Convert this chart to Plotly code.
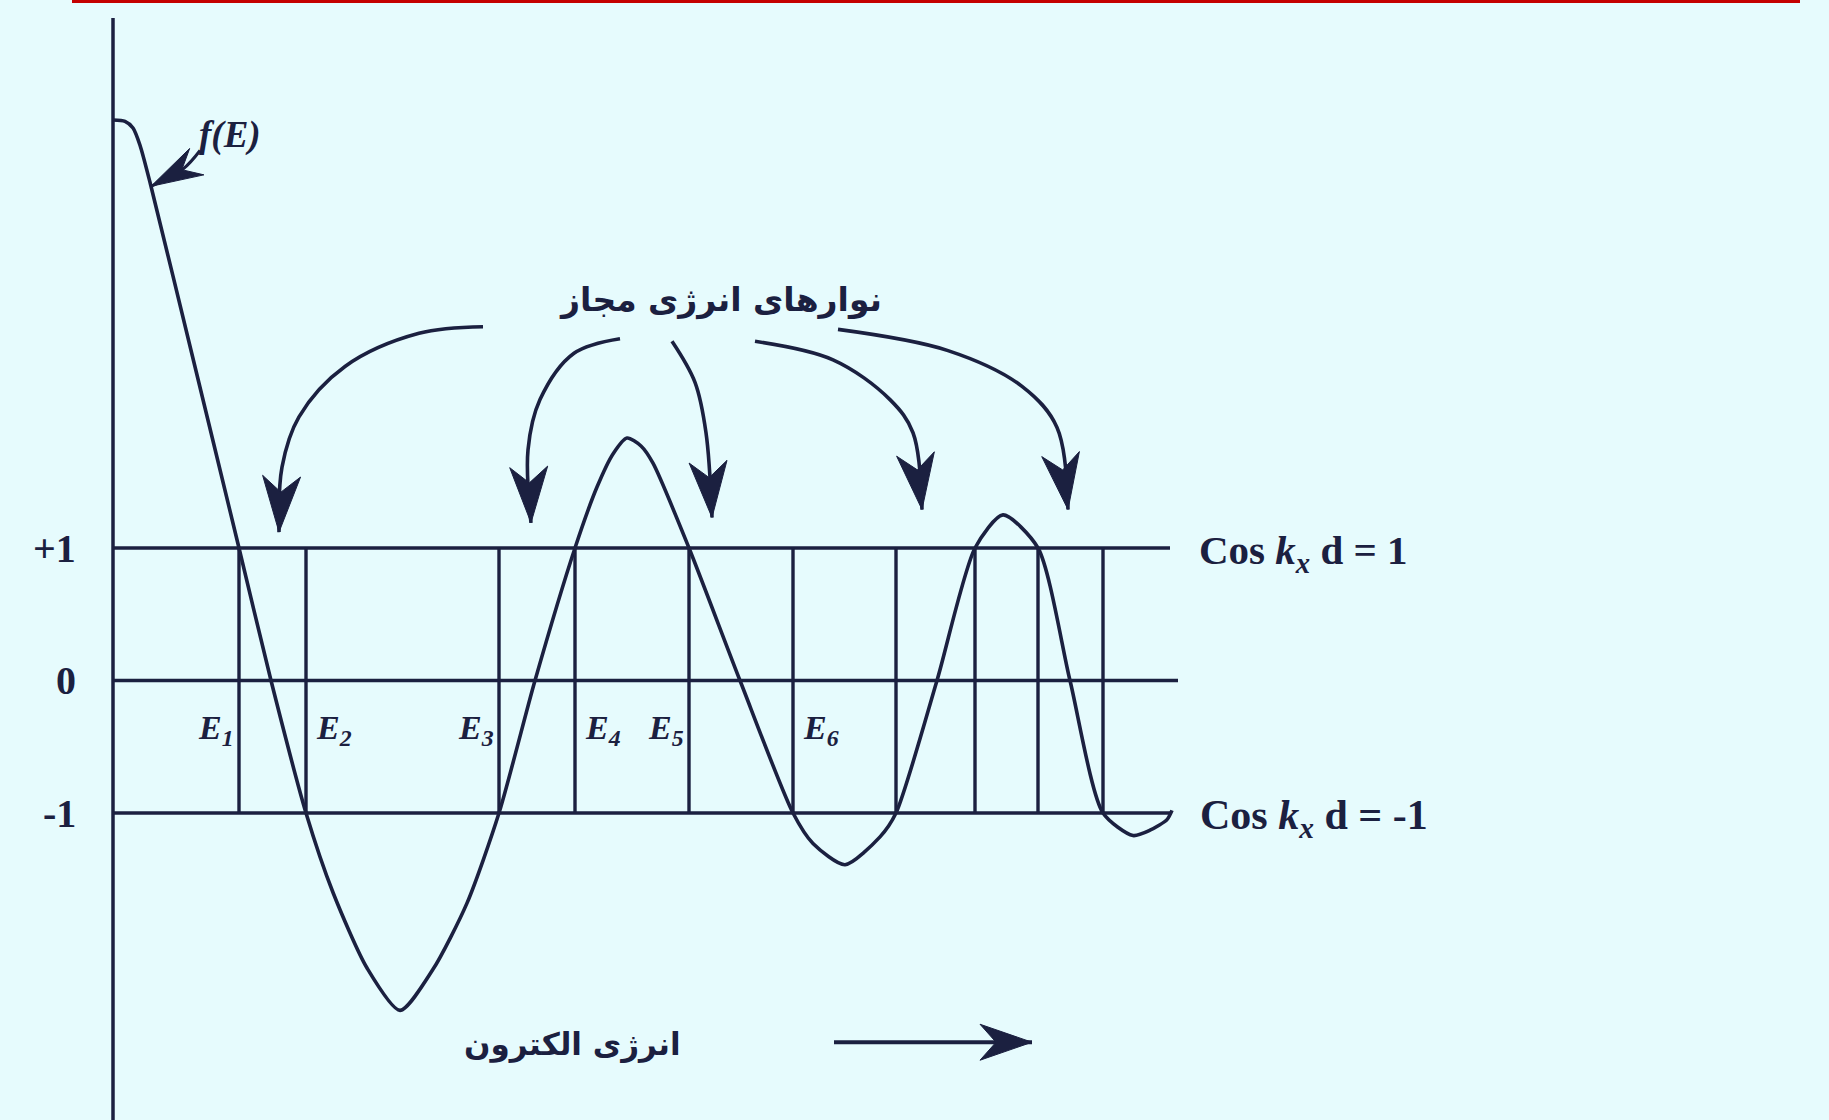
import math
import plotly.graph_objects as go

W, H = 1829, 1120
INK = "#1b2040"
PAPER = "#e6fbfd"

# f(E) sampled along the energy axis (arbitrary energy units)
energy = [0.00, 0.12, 0.20, 0.27, 0.37, 0.80, 1.26, 1.58, 1.93, 2.20, 2.54, 2.87, 3.20,
          3.54, 3.86, 4.22, 4.62, 4.84, 5.00, 5.14, 5.28, 5.40, 5.76, 6.27, 6.80, 7.00,
          7.32, 7.67, 7.83, 8.24, 8.62, 8.90, 9.25, 9.57, 9.90, 10.20, 10.37, 10.54, 10.59]
f_value = [4.23, 4.22, 4.17, 4.04, 3.76, 2.43, 1.00, 0.00, -1.00, -1.60, -2.17, -2.49, -2.18,
           -1.68, -1.00, 0.00, 1.00, 1.46, 1.71, 1.83, 1.77, 1.64, 1.00, 0.00, -1.00, -1.23,
           -1.39, -1.18, -1.00, 0.00, 1.00, 1.25, 1.00, 0.00, -1.00, -1.17, -1.13, -1.05, -0.98]

# energies where f(E) meets cos(k_x d) = +1 or -1
band_edges = [1.26, 1.93, 3.86, 4.62, 5.76, 6.80, 7.83, 8.62, 9.25, 9.90]
edge_labels = ["E<sub>1</sub>", "E<sub>2</sub>", "E<sub>3</sub>",
               "E<sub>4</sub>", "E<sub>5</sub>", "E<sub>6</sub>"]

# reference levels cos(k_x d)
levels = [1, 0, -1]
level_ends = [10.57, 10.65, 10.57]
level_labels = ["+1", "0", "-1"]

# curved pointers from the "allowed bands" caption down into each band
pointer_paths = [
    [(3.70, 2.67), (3.06, 2.62), (2.32, 2.37), (1.86, 1.99), (1.69, 1.61), (1.66, 1.12)],
    [(5.07, 2.58), (4.61, 2.47), (4.27, 2.12), (4.15, 1.74), (4.18, 1.19)],
    [(5.59, 2.56), (5.82, 2.25), (5.93, 1.87), (5.99, 1.23)],
    [(6.42, 2.56), (7.20, 2.42), (7.77, 2.12), (8.00, 1.87), (8.09, 1.29)],
    [(7.25, 2.65), (8.35, 2.49), (9.09, 2.22), (9.44, 1.91), (9.55, 1.29)],
]
fe_pointer = [(0.87, 4.00), (0.70, 3.86), (0.38, 3.73)]
energy_arrow = [(7.21, -2.73), (9.19, -2.73)]

X_RANGE = [-1.13, 17.16]
Y_RANGE = [-3.317, 5.136]
PX_X = W / (X_RANGE[1] - X_RANGE[0])
PX_Y = H / (Y_RANGE[1] - Y_RANGE[0])


def arrow_head(tip, prev, length, half, notch):
    tx, ty = tip[0] * PX_X, tip[1] * PX_Y
    bx, by = prev[0] * PX_X, prev[1] * PX_Y
    dx, dy = tx - bx, ty - by
    n = math.hypot(dx, dy)
    ux, uy = dx / n, dy / n
    nx, ny = -uy, ux
    pts = [
        (tx, ty),
        (tx - length * ux + half * nx, ty - length * uy + half * ny),
        (tx - (length - notch) * ux, ty - (length - notch) * uy),
        (tx - length * ux - half * nx, ty - length * uy - half * ny),
        (tx, ty),
    ]
    return [p[0] / PX_X for p in pts], [p[1] / PX_Y for p in pts]


fig = go.Figure()

# vertical axis
fig.add_trace(go.Scatter(x=[0, 0], y=[5.0, Y_RANGE[0]], mode="lines",
                         line=dict(color=INK, width=3.5), hoverinfo="skip"))

# horizontal reference levels
for lv, end in zip(levels, level_ends):
    fig.add_trace(go.Scatter(x=[0, end], y=[lv, lv], mode="lines",
                             line=dict(color=INK, width=3.4), hoverinfo="skip"))

# band-edge verticals
for e in band_edges:
    fig.add_trace(go.Scatter(x=[e, e], y=[-1, 1], mode="lines",
                             line=dict(color=INK, width=3.4), hoverinfo="skip"))

# f(E)
fig.add_trace(go.Scatter(x=energy, y=f_value, mode="lines",
                         line=dict(color=INK, width=3.6, shape="spline", smoothing=0.7),
                         hoverinfo="skip"))

# curved pointers with arrow heads
for path in pointer_paths:
    xs = [p[0] for p in path]
    ys = [p[1] for p in path]
    fig.add_trace(go.Scatter(x=xs, y=ys, mode="lines",
                             line=dict(color=INK, width=3.6, shape="spline", smoothing=1.0),
                             hoverinfo="skip"))
    hx, hy = arrow_head(path[-1], path[-2], 56, 19, 16)
    fig.add_trace(go.Scatter(x=hx, y=hy, mode="lines", fill="toself", fillcolor=INK,
                             line=dict(color=INK, width=1), hoverinfo="skip"))

# pointer to the f(E) curve
fig.add_trace(go.Scatter(x=[p[0] for p in fe_pointer], y=[p[1] for p in fe_pointer], mode="lines",
                         line=dict(color=INK, width=3, shape="spline"), hoverinfo="skip"))
hx, hy = arrow_head(fe_pointer[-1], fe_pointer[-2], 52, 15, 17)
fig.add_trace(go.Scatter(x=hx, y=hy, mode="lines", fill="toself", fillcolor=INK,
                         line=dict(color=INK, width=1), hoverinfo="skip"))

# increasing-energy arrow
fig.add_trace(go.Scatter(x=[p[0] for p in energy_arrow], y=[p[1] for p in energy_arrow],
                         mode="lines", line=dict(color=INK, width=4), hoverinfo="skip"))
hx, hy = arrow_head(energy_arrow[-1], energy_arrow[0], 52, 18, 16)
fig.add_trace(go.Scatter(x=hx, y=hy, mode="lines", fill="toself", fillcolor=INK,
                         line=dict(color=INK, width=1), hoverinfo="skip"))

serif = "Liberation Serif"
annotations = []

# level labels on the left
for lv, lab in zip(levels, level_labels):
    annotations.append(dict(x=-0.35, y=lv, text="<b>%s</b>" % lab, showarrow=False,
                            xanchor="right", yanchor="middle",
                            font=dict(family=serif, size=40, color=INK)))

# band-edge labels: lower edges to the left of their line, upper edges to the right
for i, lab in enumerate(edge_labels):
    left = (i % 2 == 0)
    annotations.append(dict(x=band_edges[i], y=-0.37, text="<b><i>%s</i></b>" % lab,
                            showarrow=False, xanchor="right" if left else "left",
                            yanchor="middle", xshift=-3 if left else 8,
                            font=dict(family=serif, size=34, color=INK)))

annotations.append(dict(x=1.17, y=4.12, text="<b><i>f(E)</i></b>", showarrow=False,
                        xanchor="center", yanchor="middle",
                        font=dict(family=serif, size=37, color=INK)))

annotations.append(dict(x=10.84, y=0.96, text="<b>Cos <i>k</i><sub><i>x</i></sub> d = 1</b>",
                        showarrow=False, xanchor="left", yanchor="middle",
                        font=dict(family=serif, size=41, color=INK)))
annotations.append(dict(x=10.85, y=-1.04, text="<b>Cos <i>k</i><sub><i>x</i></sub> d = -1</b>",
                        showarrow=False, xanchor="left", yanchor="middle",
                        font=dict(family=serif, size=42, color=INK)))

annotations.append(dict(x=6.07, y=2.87, text="<b>نوارهای انرژی مجاز</b>", showarrow=False,
                        xanchor="center", yanchor="middle",
                        font=dict(family="DejaVu Sans", size=33, color=INK)))
annotations.append(dict(x=4.59, y=-2.75, text="<b>انرژی الکترون</b>", showarrow=False,
                        xanchor="center", yanchor="middle",
                        font=dict(family="DejaVu Sans", size=31, color=INK)))

fig.update_layout(
    width=W, height=H, autosize=False,
    margin=dict(l=0, r=0, t=0, b=0),
    paper_bgcolor=PAPER, plot_bgcolor=PAPER,
    showlegend=False,
    xaxis=dict(range=X_RANGE, visible=False, fixedrange=True),
    yaxis=dict(range=Y_RANGE, visible=False, fixedrange=True),
    annotations=annotations,
    shapes=[dict(type="rect", xref="paper", yref="paper",
                 x0=72 / W, x1=1800 / W, y0=1 - 3 / H, y1=1,
                 fillcolor="#c40000", line=dict(width=0))],
)

fig.write_html("out.html")
